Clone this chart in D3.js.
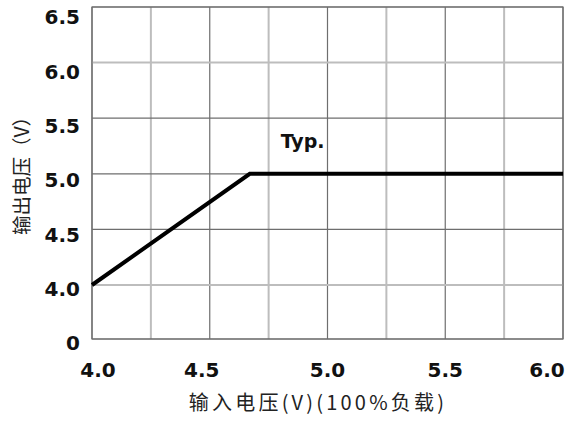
<!DOCTYPE html>
<html>
<head>
<meta charset="utf-8">
<script src="https://cdn.jsdelivr.net/npm/d3@7"></script>
<style>
  html, body { margin: 0; padding: 0; background: #fff; }
  svg { display: block; }
</style>
</head>
<body>
<svg id="chart" width="565" height="421"></svg>
<script>
// ---- data ----
const inputVoltage = [4.0, 4.67, 6.0];
const outputVoltage = [4.0, 5.0, 5.0];
const xTicks = [4.0, 4.5, 5.0, 5.5, 6.0];
const xGrid = [4.0, 4.25, 4.5, 4.75, 5.0, 5.25, 5.5, 5.75, 6.0];
const yTicks = [0, 4.0, 4.5, 5.0, 5.5, 6.0, 6.5];
const yTickLabels = ["0", "4.0", "4.5", "5.0", "5.5", "6.0", "6.5"];
const xTickLabels = ["4.0", "4.5", "5.0", "5.5", "6.0"];
const seriesLabel = "Typ.";
const xTitle = "输入电压(V)(100%负载)";
const yTitle = "输出电压（V）";

// ---- layout ----
const svg = d3.select("#chart");
const pL = 92, pR = 563, pT = 7, pB = 339;

const x = d3.scaleLinear().domain([4, 6]).range([pL, pR]);
const y = d3.scaleLinear().domain([0, 4, 6.5]).range([pB, 285, pT]);
// tick labels sit on an evenly spaced ladder
const yLab = d3.scalePoint().domain(yTickLabels).range([343, 17]);

const dark = "#6e6e6e", light = "#bdbdbd";
const lightX = new Set([4.25, 4.75, 5.25, 5.75]);
const lightY = new Set([4.0, 6.0]);

const g = svg.append("g");

g.selectAll("line.vx").data(xGrid).enter().append("line")
  .attr("x1", d => x(d)).attr("x2", d => x(d))
  .attr("y1", pT).attr("y2", pB)
  .attr("stroke", d => lightX.has(d) ? light : dark)
  .attr("stroke-width", d => lightX.has(d) ? 2 : 1.2);

g.selectAll("line.hy").data(yTicks).enter().append("line")
  .attr("x1", pL).attr("x2", pR)
  .attr("y1", d => y(d)).attr("y2", d => y(d))
  .attr("stroke", d => lightY.has(d) ? light : dark)
  .attr("stroke-width", d => lightY.has(d) ? 2 : 1.2);

g.append("rect").attr("x", pL).attr("y", pT)
  .attr("width", pR - pL).attr("height", pB - pT)
  .attr("fill", "none").attr("stroke", dark).attr("stroke-width", 1.2);

const tickFont = "'DejaVu Sans', sans-serif";
g.selectAll("text.yt").data(yTickLabels).enter().append("text")
  .attr("x", 80).attr("y", d => yLab(d))
  .attr("dy", "0.36em")
  .attr("text-anchor", "end")
  .attr("font-family", tickFont).attr("font-weight", "bold").attr("font-size", 20)
  .attr("fill", "#111")
  .text(d => d);

g.selectAll("text.xt").data(xTicks).enter().append("text")
  .attr("x", d => Math.max(98, Math.min(547, x(d) - (d === 4.5 ? 8 : 0))))
  .attr("y", 377)
  .attr("text-anchor", "middle")
  .attr("font-family", tickFont).attr("font-weight", "bold").attr("font-size", 20)
  .attr("fill", "#111")
  .text((d, i) => xTickLabels[i]);

const line = d3.line().x(d => x(d[0])).y(d => y(d[1]));
g.append("path")
  .datum(inputVoltage.map((v, i) => [v, outputVoltage[i]]))
  .attr("d", line)
  .attr("fill", "none").attr("stroke", "#000").attr("stroke-width", 4)
  .attr("stroke-linejoin", "miter");

g.append("text")
  .attr("x", x(4.75) + 12).attr("y", 148)
  .attr("font-family", tickFont).attr("font-weight", "bold").attr("font-size", 19)
  .attr("fill", "#111")
  .text(seriesLabel);

const titleFont = "'Noto Sans CJK SC', 'Noto Sans', sans-serif";
g.append("text")
  .attr("x", 318).attr("y", 410)
  .attr("text-anchor", "middle")
  .attr("font-family", titleFont).attr("font-size", 20)
  .attr("letter-spacing", 3.2)
  .attr("fill", "#222")
  .text(xTitle);

g.append("text")
  .attr("transform", "translate(29,171) rotate(-90)")
  .attr("text-anchor", "middle")
  .attr("font-family", titleFont).attr("font-size", 19.5)
  .attr("fill", "#222")
  .text(yTitle);
</script>
</body>
</html>
